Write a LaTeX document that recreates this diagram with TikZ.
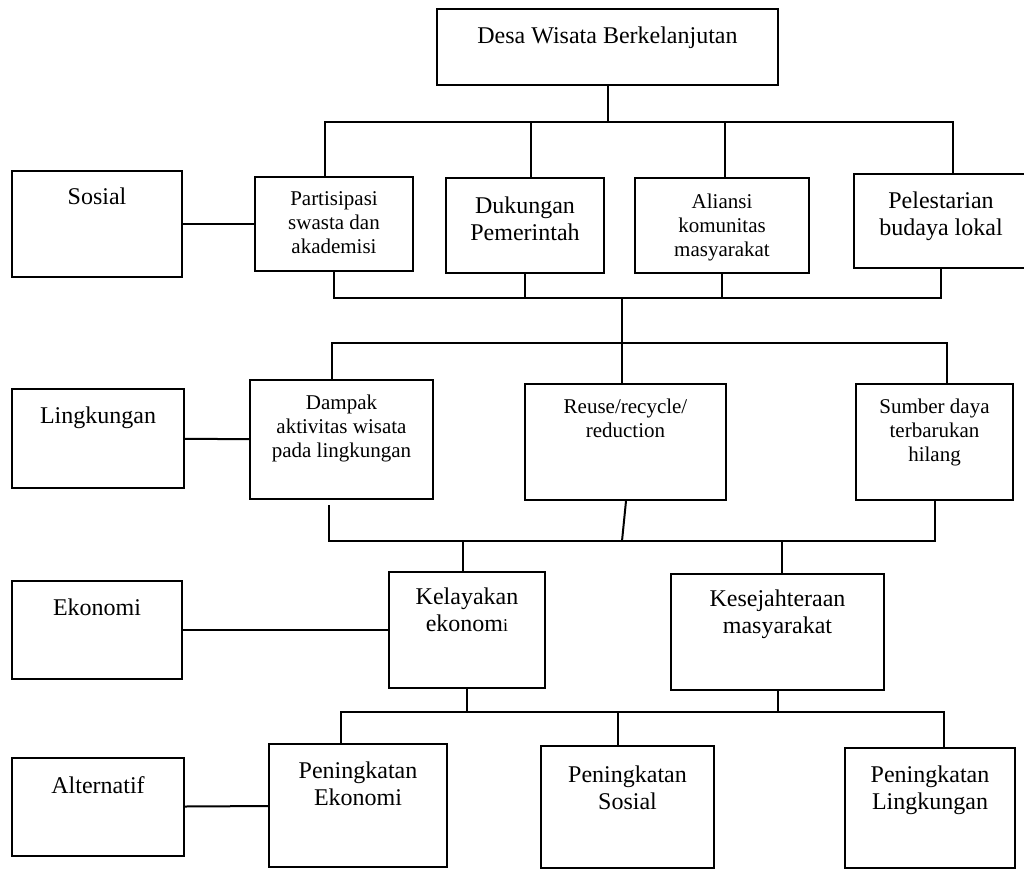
\documentclass[tikz,border=0pt]{standalone}
\usepackage{fontspec}
\setmainfont{Liberation Serif}
\usetikzlibrary{positioning}

\begin{document}
\begin{tikzpicture}[x=0.5pt,y=-0.5pt,
  box/.style={draw=black,line width=1pt},
  bigtext/.style={font=\fontsize{12}{13.8}\selectfont,align=center,inner sep=0pt,anchor=north},
  smalltext/.style={font=\fontsize{10.5}{12}\selectfont,align=center,inner sep=0pt,anchor=north},
  conn/.style={line width=1pt}]

      \useasboundingbox (0,0) rectangle (1024,869);

      % boxes
      \node[box,minimum width=170.5pt,minimum height=38pt] (desa) at (607.5,47){};
      \node[box,minimum width=85pt,minimum height=53pt] (sos) at (97,224){};
      \node[box,minimum width=79pt,minimum height=47pt] (par) at (334,224){};
      \node[box,minimum width=79pt,minimum height=47.5pt] (duk) at (525,225.5){};
      \node[box,minimum width=87pt,minimum height=47.5pt] (ali) at (722,225.5){};
      \node[box,minimum width=87pt,minimum height=47pt] (pel) at (941,221){};

      \node[box,minimum width=86pt,minimum height=49.5pt] (lin) at (98,438.5){};
      \node[box,minimum width=91.5pt,minimum height=59.5pt] (dam) at (341.5,439.5){};
      \node[box,minimum width=100.5pt,minimum height=58pt] (reu) at (625.5,442){};
      \node[box,minimum width=78.5pt,minimum height=58pt] (sum) at (934.5,442){};

      \node[box,minimum width=85pt,minimum height=49pt] (eko) at (97,630){};
      \node[box,minimum width=78pt,minimum height=58pt] (kel) at (467,630){};
      \node[box,minimum width=106.5pt,minimum height=58pt] (kes) at (777.5,632){};

      \node[box,minimum width=86pt,minimum height=49pt] (alt) at (98,807){};
      \node[box,minimum width=89pt,minimum height=61.5pt] (pek) at (358,805.5){};
      \node[box,minimum width=86.5pt,minimum height=61pt] (pso) at (627.5,807){};
      \node[box,minimum width=85pt,minimum height=60pt] (pli) at (930,808){};

      % texts
      \node[bigtext,below=9pt of desa.north] (desa-t) {Desa Wisata Berkelanjutan};
      \node[bigtext,below=8.5pt of sos.north] (sos-t) {Sosial};
      \node[smalltext,below=7.5pt of par.north] (par-t) {Partisipasi\\swasta dan\\akademisi};
      \node[bigtext,below=9.5pt of duk.north] (duk-t) {Dukungan\\Pemerintah};
      \node[smalltext,below=8.5pt of ali.north] (ali-t) {Aliansi\\komunitas\\masyarakat};
      \node[bigtext,below=9pt of pel.north] (pel-t) {Pelestarian\\budaya lokal};

      \node[bigtext,below=9pt of lin.north] (lin-t) {Lingkungan};
      \node[smalltext,below=8pt of dam.north] (dam-t) {Dampak\\aktivitas wisata\\pada lingkungan};
      \node[smalltext,below=8pt of reu.north] (reu-t) {Reuse/recycle/\\reduction};
      \node[smalltext,below=8pt of sum.north] (sum-t) {Sumber daya\\terbarukan\\hilang};

      \node[bigtext,below=9pt of eko.north] (eko-t) {Ekonomi};
      \node[bigtext,below=8pt of kel.north] (kel-t) {Kelayakan\\ekonom{\fontsize{9}{10}\selectfont i}};
      \node[bigtext,below=8pt of kes.north] (kes-t) {Kesejahteraan\\masyarakat};

      \node[bigtext,below=9.5pt of alt.north] (alt-t) {Alternatif};
      \node[bigtext,below=9pt of pek.north] (pek-t) {Peningkatan\\Ekonomi};
      \node[bigtext,below=10pt of pso.north] (pso-t) {Peningkatan\\Sosial};
      \node[bigtext,below=9pt of pli.north] (pli-t) {Peningkatan\\Lingkungan};

      % bus points
      \coordinate (b1) at (608,122);
      \coordinate (b2) at (622,298);
      \coordinate (b3) at (622,343);
      \coordinate (b4) at (622,541);
      \coordinate (b5) at (620,712);

      % first level
      \draw[conn] (desa.south) -- (desa.south |- b1);
      \draw[conn] ([xshift=-4.5pt]par.north) |- (b1) -| ([xshift=6pt]pel.north);
      \draw[conn] ([xshift=3pt]duk.north) -- ([xshift=3pt]duk.north |- b1);
      \draw[conn] ([xshift=1.5pt]ali.north) -- ([xshift=1.5pt]ali.north |- b1);

      \draw[conn] (par.south) |- (b2) -| (pel.south);
      \draw[conn] (duk.south) -- (duk.south |- b2);
      \draw[conn] (ali.south) -- (ali.south |- b2);
      \draw[conn] (b2) -- (b2 |- reu.north);

      % second level
      \draw[conn] ([xshift=-5pt]dam.north) |- (b3) -| ([xshift=6.25pt]sum.north);
      \draw[conn] ([xshift=-6.25pt,yshift=-2.5pt]dam.south) |- (b4) -| (sum.south);
      \draw[conn] ([xshift=0.25pt]reu.south) -- (b4);

      % third level
      \draw[conn] ([xshift=-2pt]kel.north) -- ([xshift=-2pt]kel.north |- b4);
      \draw[conn] ([xshift=2.25pt]kes.north) -- ([xshift=2.25pt]kes.north |- b4);
      \draw[conn] (kel.south) -- (kel.south |- b5);
      \draw[conn] (kes.south) -- (kes.south |- b5);

      % fourth level
      \draw[conn] ([xshift=-8.5pt]pek.north) |- (b5) -| ([xshift=7pt]pli.north);
      \draw[conn] ([xshift=-4.75pt]pso.north) -- ([xshift=-4.75pt]pso.north |- b5);

      % criteria to rows
      \draw[conn] (sos) -- (par);
      \draw[conn] (lin) -- (dam);
      \draw[conn] (eko) -- (kel);
      \draw[conn] (alt) -- (pek);
    \end{tikzpicture}
\end{document}
